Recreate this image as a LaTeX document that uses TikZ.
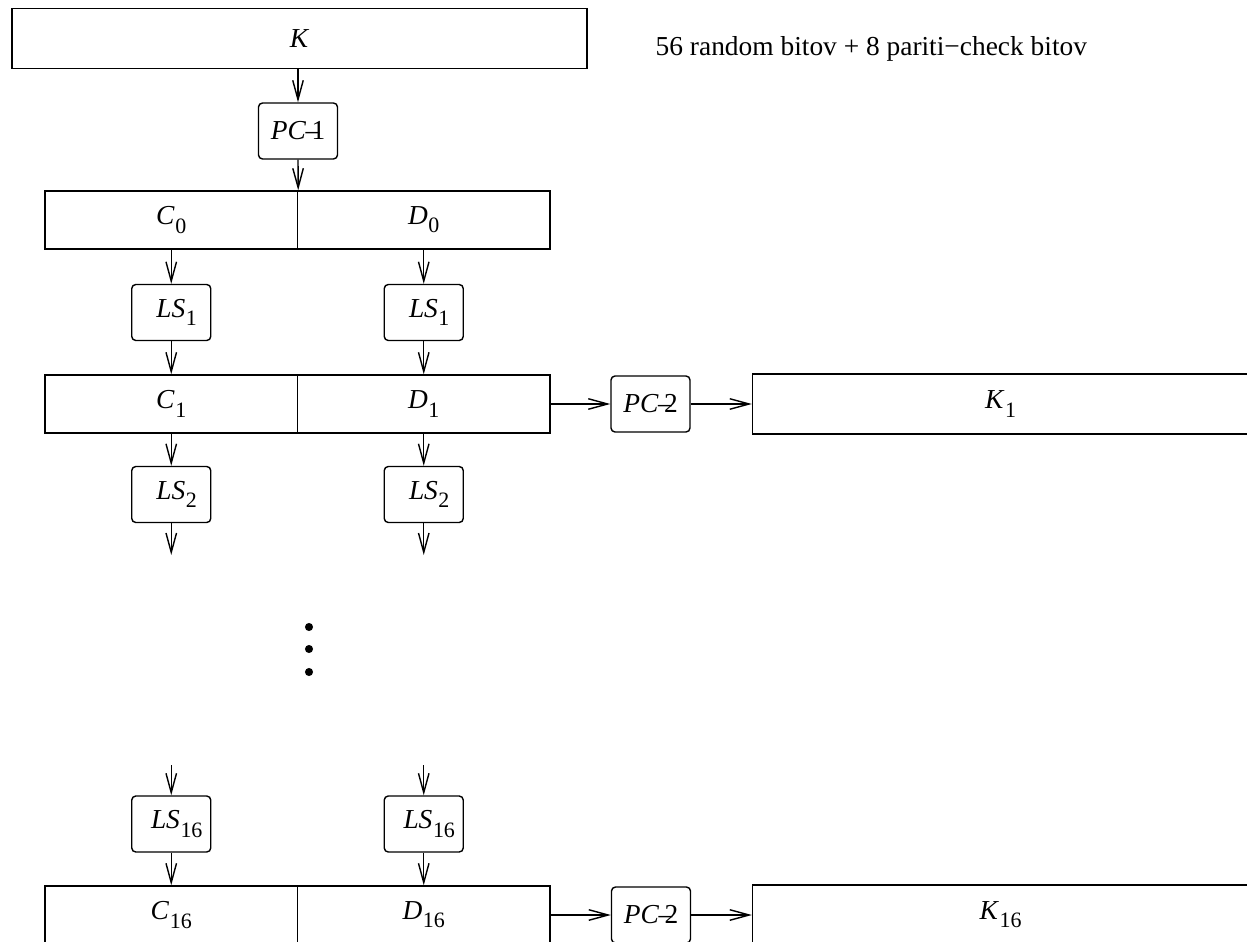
\documentclass[tikz,border=0pt]{standalone}
\usepackage{fontspec}
\setmainfont{Liberation Serif}
\usetikzlibrary{arrows.meta,positioning}

\newcommand{\unitpx}{0.02cm}
\newcommand{\sublbl}[2]{\textit{#1}\kern0.02em\raisebox{-0.3em}{\fontsize{12.5}{12.5}\selectfont #2}}
\newcommand{\pclbl}[1]{\textit{PC}\kern-0.02em--\kern-0.28em#1}

\begin{document}
\begin{tikzpicture}[x=\unitpx,y=-\unitpx,line width=0.8pt,
		>={Straight Barb[length=11pt,width=6pt]},
		every node/.style={font=\fontsize{15.6}{18}\selectfont,inner sep=0pt},
		keybox/.style={draw,minimum height=60*\unitpx},
		halfbox/.style={draw,minimum width=252.5*\unitpx,minimum height=58*\unitpx},
		shiftbox/.style={draw,rounded corners=2.3pt,minimum width=79*\unitpx,minimum height=56*\unitpx}]

			\useasboundingbox (0,0) rectangle (1247,942);
			\clip (0,0) rectangle (1247,942);

			\node [keybox,minimum width=575*\unitpx] (K) at (299.5,38.5) {\textit{K}};
			\node [anchor=base west] (note) at (655,56) {56 random bitov + 8 pariti−check bitov};
			\node [shiftbox] (pc1) at (298,131) {\pclbl{1}};

			\foreach \i/\y in {0/220,1/404,16/915} {
					\node [halfbox] (C\i) at (171.25,\y) {\sublbl{C}{\i}};
					\node [halfbox] (D\i) at (423.75,\y) {\sublbl{D}{\i}};
				}
			\foreach \i/\y in {1/312.5,2/494.5,16/824} {
					\node [shiftbox] (lsC\i) at (171.25,\y) {\hspace{0.4em}\sublbl{LS}{\i}};
					\node [shiftbox] (lsD\i) at (423.75,\y) {\hspace{0.4em}\sublbl{LS}{\i}};
				}

			\draw [->] (K.south -| pc1.north) -- (pc1.north);
			\draw [->] (pc1.south) -- (C0.north east);

			\foreach \col in {C,D} {
					\coordinate (out\col) at (ls\col2.south |- 0,555);
					\coordinate (in\col) at (ls\col16.north |- 0,765);
					\draw [->] (\col0) -- (ls\col1);
					\draw [->] (ls\col1) -- (\col1);
					\draw [->] (\col1) -- (ls\col2);
					\draw [->] (ls\col2) -- (out\col);
					\draw [->] (in\col) -- (ls\col16);
					\draw [->] (ls\col16) -- (\col16);
				}

			\foreach \y in {627,649,672} {
					\fill (309,\y) circle [radius=2.3pt];
				}

			\node [shiftbox] (pc2a) at (650.5,404) {\pclbl{2}};
			\node [keybox,minimum width=496*\unitpx] (K1) at (1000.5,404) {\sublbl{K}{1}};
			\draw [->] (D1) -- (pc2a);
			\draw [->] (pc2a) -- (K1);

			\node [shiftbox] (pc2b) at (651,915) {\pclbl{2}};
			\node [keybox,minimum width=496*\unitpx] (K16) at (1000.5,915) {\sublbl{K}{16}};
			\draw [->] (D16) -- (pc2b);
			\draw [->] (pc2b) -- (K16);
		\end{tikzpicture}
\end{document}
